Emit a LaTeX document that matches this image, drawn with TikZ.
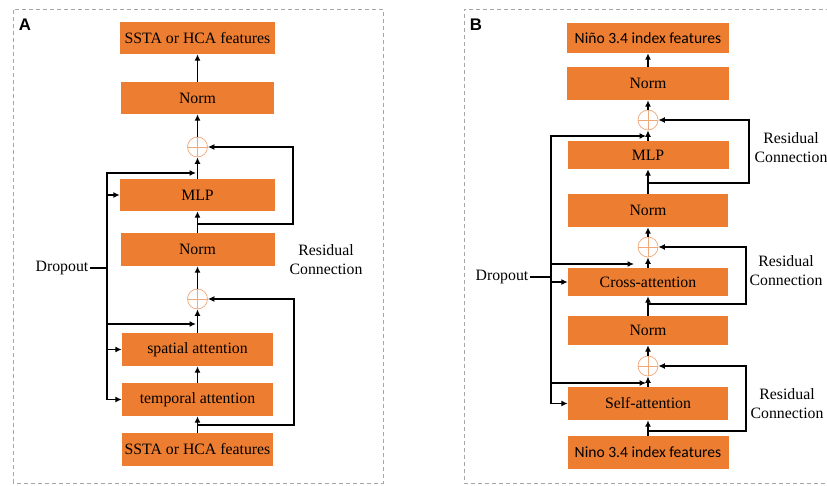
\documentclass[tikz,border=0pt]{standalone}
\usepackage{fontspec}
\setmainfont{Liberation Serif}
\newfontfamily\calib{Carlito}
\newfontfamily\labfont{Liberation Sans}
\usetikzlibrary{arrows.meta}
\definecolor{boxor}{HTML}{ED7D31}
\definecolor{plusor}{HTML}{F0A878}
\definecolor{dashgray}{HTML}{A6A6A6}
\begin{document}
\begin{tikzpicture}[x=1pt,y=-1pt,
 box/.style={fill=boxor, draw=none, inner sep=0pt, font=\fontsize{15.8}{18}\selectfont},
 sbox/.style={box, font=\calib\fontsize{15.6}{18}\selectfont},
 plusnode/.style={circle, draw=plusor, fill=white, line width=0.7pt, minimum size=20pt, inner sep=0pt,
   path picture={\draw[plusor, line width=0.7pt] (path picture bounding box.north) -- (path picture bounding box.south) (path picture bounding box.west) -- (path picture bounding box.east);}},
 conn/.style={line width=1.6pt, black},
 arr/.style={conn, -{Latex[length=6.5pt,width=6pt]}},
 lbl/.style={font=\fontsize{15.8}{19}\selectfont, align=center, inner sep=1pt},
 panel/.style={dashgray, line width=0.9pt, dash pattern=on 4pt off 3pt},
 plab/.style={font=\labfont\bfseries\fontsize{16.8}{18}\selectfont, inner sep=0pt},
]
\useasboundingbox (0,0) rectangle (827,486);
% panels
\draw[panel] (13,483) rectangle (383,9);
\draw[panel] (830,9) -- (464,9) -- (464,483) -- (830,483);
\node[plab] (labA) at (25,25) {A};
\node[plab] (labB) at (476,25) {B};

% ---------------- Panel A ----------------
\node[box, minimum width=151pt, minimum height=33pt] (a0) at (197.5,449.5) {SSTA or HCA features};
\node[box, minimum width=151pt, minimum height=33pt] (a1) at (197.5,399.5) {temporal attention};
\node[box, minimum width=151pt, minimum height=33pt] (a2) at (197.5,349.5) {spatial attention};
\node[plusnode] (pA2) at (197.5,299) {};
\node[box, minimum width=154pt, minimum height=33pt] (a3) at (197.5,249.5) {Norm};
\node[box, minimum width=155pt, minimum height=32pt] (a4) at (197.5,195) {MLP};
\node[plusnode] (pA1) at (197.5,147) {};
\node[box, minimum width=153pt, minimum height=32pt] (a5) at (197.5,98) {Norm};
\node[box, minimum width=155pt, minimum height=32pt] (a6) at (197.5,38) {SSTA or HCA features};

\draw[arr] (a0) -- (a1);
\draw[arr] (a1) -- (a2);
\draw[arr] (a2) -- (pA2);
\draw[arr] (pA2) -- (a3);
\draw[arr] (a3) -- (a4);
\draw[arr] (a4) -- (pA1);
\draw[arr] (pA1) -- (a5);
\draw[arr] (a5) -- (a6);

% residuals A
\coordinate (jA1) at (197.5,224);
\coordinate (rA1) at (293,224);
\draw[arr] (jA1) -- (rA1) |- (pA1.east);
\coordinate (jA2) at (197.5,425);
\coordinate (rA2) at (294,425);
\draw[arr] (jA2) -- (rA2) |- (pA2.east);
\node[lbl] (resA) at (326,259.5) {Residual\\Connection};

% dropout A
\node[lbl] (dropA) at (62,268) {Dropout};
\coordinate (dA) at (107,268);
\draw[conn] (dropA.east) -- (dA);
\coordinate (vA1) at (107,173);
\coordinate (tA1) at (196,173);
\coordinate (vA2) at (107,195);
\coordinate (vA3) at (107,324);
\coordinate (tA3) at (196,324);
\coordinate (vA4) at (107,349.5);
\coordinate (vA5) at (107,399.5);
\draw[arr] (vA5) -- (vA1) -- (tA1);
\draw[arr] (vA2) -- (a4);
\draw[arr] (vA3) -- (tA3);
\draw[arr] (vA4) -- (a2);
\draw[arr] (vA5) -- (a1);

% ---------------- Panel B ----------------
\node[sbox, minimum width=161pt, minimum height=33pt] (b0) at (648,452.5) {Nino 3.4 index features};
\node[box, minimum width=160pt, minimum height=33pt] (b1) at (648,403.5) {Self-attention};
\node[plusnode] (pB3) at (648,366) {};
\node[box, minimum width=160pt, minimum height=29pt] (b2) at (648,330.5) {Norm};
\node[box, minimum width=160pt, minimum height=28pt] (b3) at (648,282) {Cross-attention};
\node[plusnode] (pB2) at (648,247) {};
\node[box, minimum width=160pt, minimum height=33pt] (b4) at (648,210.5) {Norm};
\node[box, minimum width=161pt, minimum height=28pt] (b5) at (648,155) {MLP};
\node[plusnode] (pB1) at (648,120) {};
\node[box, minimum width=162pt, minimum height=33pt] (b6) at (648,83.5) {Norm};
\node[sbox, minimum width=162pt, minimum height=30pt] (b7) at (648,38) {Niño 3.4 index features};

\draw[arr] (b0) -- (b1);
\draw[arr] (b1) -- (pB3);
\draw[arr] (pB3) -- (b2);
\draw[arr] (b2) -- (b3);
\draw[arr] (b3) -- (pB2);
\draw[arr] (pB2) -- (b4);
\draw[arr] (b4) -- (b5);
\draw[arr] (b5) -- (pB1);
\draw[arr] (pB1) -- (b6);
\draw[arr] (b6) -- (b7);

% residuals B
\coordinate (jB1) at (648,183);
\coordinate (rB1) at (749,183);
\draw[arr] (jB1) -- (rB1) |- (pB1.east);
\coordinate (jB2) at (648,304);
\coordinate (rB2) at (746,304);
\draw[arr] (jB2) -- (rB2) |- (pB2.east);
\coordinate (jB3) at (648,431);
\coordinate (rB3) at (746,431);
\draw[arr] (jB3) -- (rB3) |- (pB3.east);
\node[lbl] (resB1) at (791,148) {Residual\\Connection};
\node[lbl] (resB2) at (786,271) {Residual\\Connection};
\node[lbl] (resB3) at (787,403.5) {Residual\\Connection};

% dropout B
\node[lbl] (dropB) at (502,277) {Dropout};
\coordinate (dB) at (551,277);
\draw[conn] (dropB.east) -- (dB);
\coordinate (vB1) at (551,136);
\coordinate (tB1) at (646,136);
\coordinate (vB2) at (551,264);
\coordinate (tB2) at (634,264);
\coordinate (vB3) at (551,282);
\coordinate (vB4) at (551,383);
\coordinate (tB4) at (646,383);
\coordinate (vB5) at (551,403.5);
\draw[arr] (vB5) -- (vB1) -- (tB1);
\draw[arr] (vB2) -- (tB2);
\draw[arr] (vB3) -- (b3);
\draw[arr] (vB4) -- (tB4);
\draw[arr] (vB5) -- (b1);
\end{tikzpicture}
\end{document}
